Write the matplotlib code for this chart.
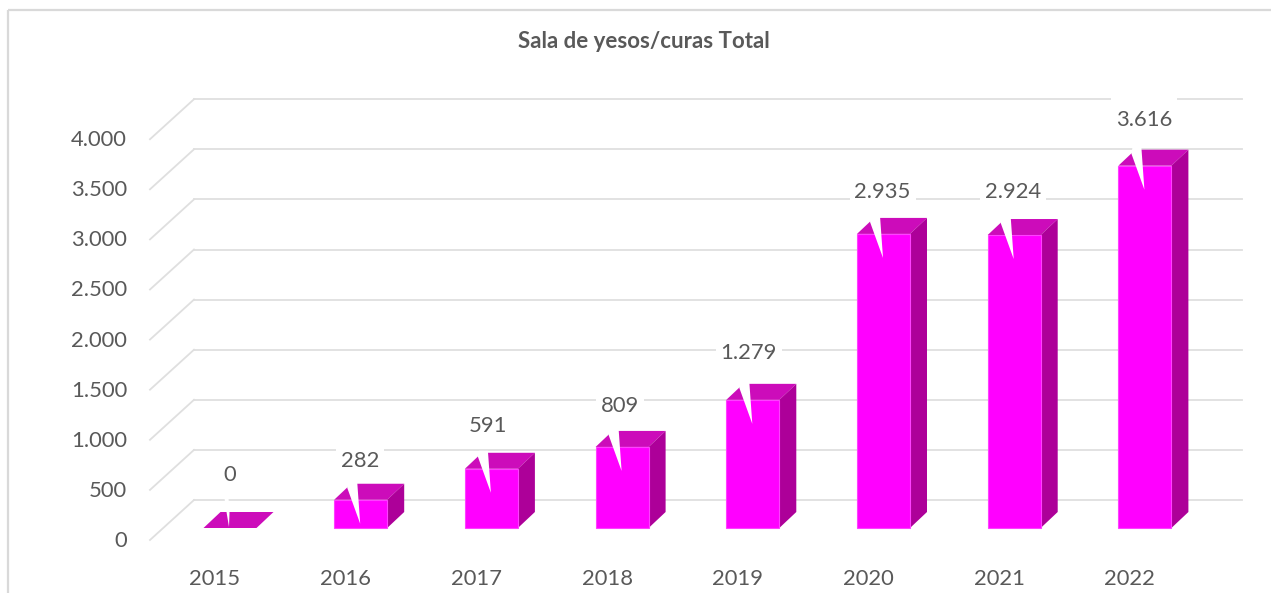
import matplotlib
matplotlib.use("Agg")
import matplotlib.pyplot as plt
from matplotlib.patches import Polygon, Rectangle

years = ["2015", "2016", "2017", "2018", "2019", "2020", "2021", "2022"]
values = [0, 282, 591, 809, 1279, 2935, 2924, 3616]
labels = ["0", "282", "591", "809", "1.279", "2.935", "2.924", "3.616"]
y_ticks = [0, 500, 1000, 1500, 2000, 2500, 3000, 3500, 4000]
y_tick_labels = ["0", "500", "1.000", "1.500", "2.000", "2.500", "3.000", "3.500", "4.000"]
title = "Sala de yesos/curas Total"

# label placement: pixels above the bar's front top edge, and horizontal shift
label_rise = [55, 41, 45, 43, 49, 44, 45, 48]
label_shift = [0, -1, -3, -2, -4, -1, -1, -1]

W, H = 1271, 593
PX_X = 130.7          # pixels per category
PX_Y = 0.1002         # pixels per value unit
X0 = 230            # pixel of first category centre
Y0 = 528              # pixel of value 0 on the bars' front plane

plt.rcParams["font.family"] = ["Lato", "DejaVu Sans"]
fig = plt.figure(figsize=(W / 100, H / 100), dpi=100, facecolor="white")
ax = fig.add_axes([0, 0, 1, 1])
ax.set_xlim(-X0 / PX_X, (W - X0) / PX_X)
ax.set_ylim(-(H - Y0) / PX_Y, Y0 / PX_Y)
ax.axis("off")

def dx(p):
    return p / PX_X
def dy(p):
    return -p / PX_Y   # positive p = downward pixels

GRID = "#dfdfdf"
TEXT = "#595959"

# chart frame
ax.add_patch(Rectangle((dx(8.5 - X0), dy(9.5 - Y0)), dx(W + 30), dy(H + 30),
                       fill=False, ec="#d9d9d9", lw=1.6, zorder=0))

# gridlines: back wall plus left wall diagonals
for v in y_ticks:
    yb = v + dy(-28)
    ax.plot([dx(194 - X0), dx(1242 - X0)], [yb, yb], color=GRID, lw=1.3, zorder=1)
    ax.plot([dx(150 - X0), dx(194 - X0)], [v + dy(12), yb], color=GRID, lw=1.3, zorder=1)

# y tick labels
for v, s in zip(y_ticks, y_tick_labels):
    ax.text(dx(127 - X0), v + dy(11), s, ha="right", va="center_baseline",
            fontsize=15.8, color=TEXT, zorder=6)

# bars
half = dx(26.5)
ox, oy = dx(17), dy(-16)
for i, (v, s, yr) in enumerate(zip(values, labels, years)):
    l, r = i - half, i + half
    # label box hides gridlines
    xt = i + dx(label_shift[i])
    yt = v + dy(-label_rise[i])
    if v > 0:
        bw = dx(33 if len(s) > 3 else 24)
        ax.add_patch(Rectangle((xt - bw, yt + dy(20)), 2 * bw, dy(-40), fc="white",
                               ec="none", zorder=2))
    ax.add_patch(Polygon([(l, v), (l + ox, v + oy), (r + ox, v + oy), (r, v)],
                         fc="#cc0cba", ec="none", zorder=3))
    if v > 0:
        ax.add_patch(Polygon([(r, 0), (r + ox, oy), (r + ox, v + oy), (r, v)],
                             fc="#ad0099", ec="none", zorder=3))
        ax.add_patch(Rectangle((l, 0), r - l, v, fc="#ff00ff", ec="#ff40ff", lw=0.8, zorder=4))
        notch = [(l + dx(13), v + dy(-12)), (l + dx(14), v + dy(-18)),
                 (l + dx(23), v + dy(-18)), (l + dx(26), v + dy(24))]
    else:
        notch = [(l + dx(21), v + dy(-30)), (l + dx(25), v + dy(-30)),
                 (l + dx(26), v + dy(-15)), (l + dx(25.5), v + dy(-1)),
                 (l + dx(23), v + dy(-16))]
    ax.add_patch(Polygon(notch, fc="white", ec="none", zorder=5))
    ax.text(xt, yt, s, ha="center", va="center_baseline",
            fontsize=15.8, color=TEXT, zorder=6)
    # category label
    ax.text(i + dx(-15), dy(49), yr, ha="center", va="center_baseline",
            fontsize=15.8, color=TEXT, zorder=6)

ax.text(dx(644 - X0), dy(39 - Y0), title, ha="center", va="center_baseline",
        fontsize=16, fontweight="bold", color=TEXT, zorder=6)

fig.savefig("out.png", dpi=100)
